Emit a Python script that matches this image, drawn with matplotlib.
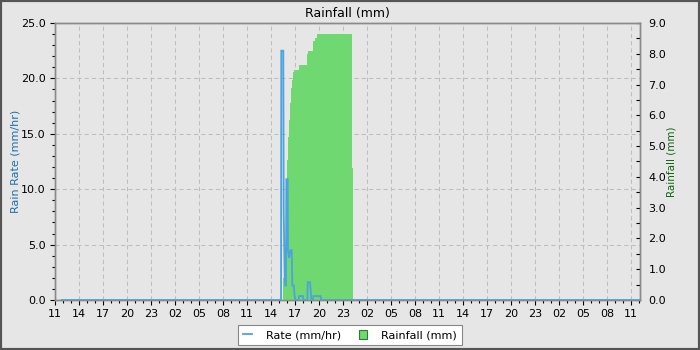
import matplotlib
matplotlib.use("Agg")
import matplotlib.pyplot as plt
import matplotlib.dates as mdates
from matplotlib.patches import Patch, Rectangle
from matplotlib.ticker import MultipleLocator, FormatStrFormatter
import pandas as pd

# ---------------- data ----------------
rate_times = ["2024-06-10 11:50", "2024-06-11 15:15", "2024-06-11 15:17", "2024-06-11 15:32",
              "2024-06-11 15:35", "2024-06-11 15:43", "2024-06-11 15:47", "2024-06-11 15:52",
              "2024-06-11 15:55", "2024-06-11 16:05", "2024-06-11 16:07", "2024-06-11 16:15",
              "2024-06-11 16:25", "2024-06-11 16:35", "2024-06-11 16:40", "2024-06-11 16:50",
              "2024-06-11 16:55", "2024-06-11 17:02", "2024-06-11 17:28", "2024-06-11 17:30",
              "2024-06-11 18:00", "2024-06-11 18:02", "2024-06-11 18:33", "2024-06-11 18:35",
              "2024-06-11 18:52", "2024-06-11 18:58", "2024-06-11 19:02", "2024-06-11 19:15",
              "2024-06-11 19:17", "2024-06-11 20:12", "2024-06-11 20:15", "2024-06-13 12:00"]
rate_values = [0.0, 0.0, 22.5, 22.5,
               7.8, 2.0, 1.3, 1.3,
               10.9, 10.9, 4.5, 3.8,
               4.5, 4.5, 1.3, 1.3,
               0.6, 0.0, 0.0, 0.35,
               0.35, 0.0, 0.0, 1.6,
               1.6, 0.8, 0.0, 0.0,
               0.35, 0.35, 0.0, 0.0]

rain_times = ["2024-06-11 15:30", "2024-06-11 15:52", "2024-06-11 16:02", "2024-06-11 16:10",
              "2024-06-11 16:15", "2024-06-11 16:22", "2024-06-11 16:30", "2024-06-11 16:36",
              "2024-06-11 16:45", "2024-06-11 16:54", "2024-06-11 17:30", "2024-06-11 18:28",
              "2024-06-11 18:36", "2024-06-11 19:12", "2024-06-11 19:30", "2024-06-11 19:43",
              "2024-06-12 00:06", "2024-06-12 00:15"]
rain_values = [0.7, 3.9, 4.55, 5.3,
               5.85, 6.4, 6.9, 7.15,
               7.4, 7.47, 7.65, 8.0,
               8.1, 8.4, 8.5, 8.64,
               4.3, 0.0]

x_start = "2024-06-10 11:00"
x_end = "2024-06-13 12:07"

title = "Rainfall (mm)"
left_label = "Rain Rate (mm/hr)"
right_label = "Rainfall (mm)"
rate_name = "Rate (mm/hr)"
rain_name = "Rainfall (mm)"

# ---------------- style ----------------
BG = "#e6e6e6"
BLUE = "#4ca3dd"
GREEN = "#70d870"
GRID = "#bdbdbd"
SPINE = "#8a8a8a"

rt = pd.to_datetime(rate_times)
ft = pd.to_datetime(rain_times)

fig = plt.figure(figsize=(7, 3.5), dpi=100, facecolor=BG)
pos = [55 / 700, 1 - 300 / 350, (640 - 55) / 700, (300 - 23) / 350]

ax = fig.add_axes(pos)          # left axis: grid + ticks
ax.set_facecolor(BG)
ax2 = ax.twinx()                # right axis: rainfall
ax3 = ax.twinx()                # rate line on top, left scale

ax.set_zorder(0)
ax2.set_zorder(1)
ax3.set_zorder(2)
ax2.patch.set_visible(False)
ax3.patch.set_visible(False)

# rainfall (cumulative) as step fill
ax2.fill_between(ft, rain_values, step="post", color=GREEN, linewidth=0)

# rate line
ax3.plot(rt, rate_values, color=BLUE, lw=1.3, solid_joinstyle="miter")

ax.set_xlim(pd.Timestamp(x_start), pd.Timestamp(x_end))
ax.set_ylim(0, 25)
ax3.set_ylim(0, 25)
ax2.set_ylim(0, 9)

ax3.set_yticks([])
for s in ax3.spines.values():
    s.set_visible(False)
ax3.tick_params(axis="x", which="both", bottom=False, labelbottom=False)

# x ticks
ax.xaxis.set_major_locator(mdates.HourLocator(byhour=range(2, 24, 3)))
ax.xaxis.set_minor_locator(mdates.HourLocator())
ax.xaxis.set_major_formatter(mdates.DateFormatter("%H"))

# left y ticks
ax.yaxis.set_major_locator(MultipleLocator(5))
ax.yaxis.set_minor_locator(MultipleLocator(1))
ax.yaxis.set_major_formatter(FormatStrFormatter("%.1f"))

# right y ticks
ax2.yaxis.set_major_locator(MultipleLocator(1))
ax2.yaxis.set_minor_locator(MultipleLocator(0.5))
ax2.yaxis.set_major_formatter(FormatStrFormatter("%.1f"))

ax.tick_params(axis="both", which="major", labelsize=8, length=3.6, width=0.8,
               color="black", labelcolor="black")
ax.tick_params(axis="both", which="minor", length=2.2, width=0.8, color="black")
ax.tick_params(axis="y", pad=3)
ax.tick_params(axis="x", pad=3)
ax2.tick_params(axis="y", which="major", direction="in", length=3, width=0.8,
                labelsize=8, pad=6, color="black")
ax2.tick_params(axis="y", which="minor", direction="in", length=3, width=0.8, color="black")

ax.grid(True, which="major", color=GRID, linestyle=(0, (4, 3)), linewidth=0.75)

for a in (ax, ax2):
    for s in a.spines.values():
        s.set_color(SPINE)
        s.set_linewidth(1.0)

ax.set_title(title, fontsize=9, pad=4)
ax.set_ylabel(left_label, fontsize=8, color="#1f6fa8", labelpad=0.5)
ax2.set_ylabel(right_label, fontsize=7.5, color="#136413", labelpad=0.5)

# legend
handles = [plt.Line2D([], [], color=BLUE, lw=1.3),
           Patch(facecolor=GREEN, edgecolor="#2e7d2e", linewidth=0.8)]
leg = fig.legend(handles, [rate_name, rain_name], loc="lower center",
                 bbox_to_anchor=(0.5, -0.002), ncol=2, fontsize=8, frameon=True,
                 fancybox=False, framealpha=1, edgecolor="#888888",
                 handlelength=0.8, handleheight=0.8, handletextpad=1.2,
                 columnspacing=1.6, borderpad=0.45)
leg.get_frame().set_linewidth(0.8)

# figure border
fig.patches.append(Rectangle((0, 0), 1, 1, transform=fig.transFigure, fill=False,
                             edgecolor="#555555", linewidth=3, zorder=10))

fig.savefig("out.png", dpi=100, facecolor=BG)
